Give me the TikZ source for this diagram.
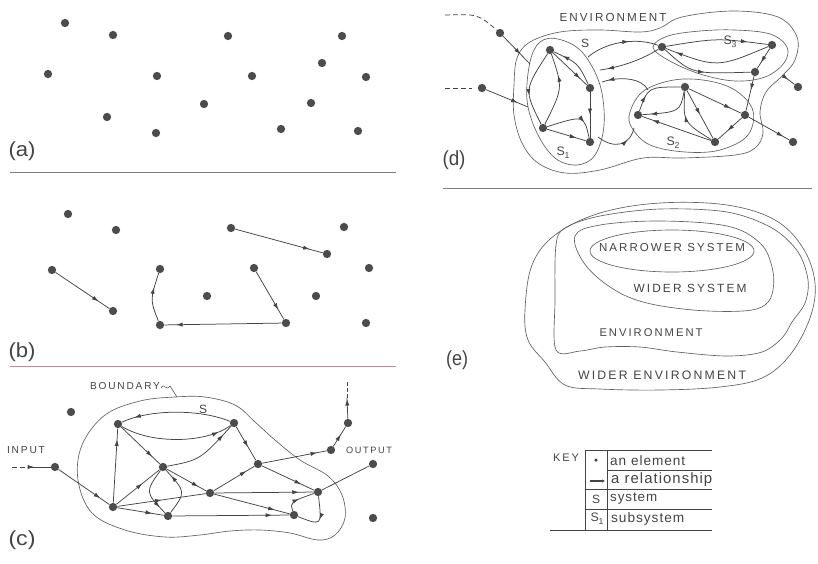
\documentclass[tikz,border=0pt]{standalone}
\usepackage{fontspec}
\usepackage{graphicx}
\usetikzlibrary{arrows.meta,decorations.markings}
\newfontfamily\lbl[LetterSpace=18]{Liberation Sans}
\newfontfamily\lblk[LetterSpace=7]{Liberation Sans}
\newfontfamily\lblp{Liberation Sans}
\newcommand\fw[2]{\resizebox{#1}{!}{\lbl\fontsize{10}{12}\selectfont #2}}
\newcommand\fwk[2]{\resizebox{#1}{!}{\lblk\fontsize{10}{12}\selectfont #2}}
\newcommand\plabel[2]{\resizebox*{#1}{19pt}{\lblp\fontsize{14}{16}\selectfont #2}}
\newcommand\subs[1]{\raisebox{-2.5pt}{\fontsize{7}{8}\selectfont #1}}
\definecolor{linec}{HTML}{444444}
\definecolor{dotc}{HTML}{4C4C4C}
\definecolor{bndc}{HTML}{606060}
\definecolor{sepc}{HTML}{808080}
\definecolor{sepr}{HTML}{C88A8A}
\begin{document}
\begin{tikzpicture}[x=1pt,y=-1pt,
  dot/.style={circle,fill=dotc,inner sep=0pt,minimum size=8.3pt},
  rel/.style={draw=linec,line width=0.75pt,postaction={decorate},
    decoration={markings,mark=at position #1 with {\arrow{Latex[length=6.5pt,width=4.2pt]}}}},
  rel/.default=0.78,
  plainln/.style={draw=linec,line width=0.75pt},
  bnd/.style={draw=bndc,line width=0.65pt},
  txt/.style={inner sep=0pt,text=linec},
  sep/.style={line width=0.9pt}]
\useasboundingbox (0,0) rectangle (818,563);
\fill[white] (0,0) rectangle (818,563);

% ---------------- (a) ----------------
\foreach \n/\x/\y in {a1/65/23,a2/113/35,a3/228/36,a4/342/36,a5/48/74,a6/157/76,a7/252/76,a8/322/63,a9/366/77,a10/204/104,a11/311/103,a12/107/117,a13/156/133,a14/281/129,a15/358/131}
  \node[dot] (\n) at (\x,\y) {};
\node[txt] (la) at (22,151) {\plabel{27pt}{(a)}};
\coordinate (sa1) at (10,172); \coordinate (sa2) at (396,172);
\draw[sep,draw=sepc] (sa1) -- (sa2);

% ---------------- (b) ----------------
\foreach \n/\x/\y in {b1/68/214,b2/116/230,b3/231/228,b4/344/227,b5/327/254,b6/52/270,b7/160/269,b8/254/268,b9/369/268,b10/207/296,b11/316/296,b12/113/311,b13/160/325,b14/286/323,b15/366/323}
  \node[dot] (\n) at (\x,\y) {};
\draw[rel=0.8] (b6) -- (b12);
\draw[rel=0.85] (b3) -- (b5);
\draw[rel=0.8] (b8) -- (b14);
\draw[rel=0.9] (b14) -- (b13);
\draw[rel=0.7] (b13) .. controls (150,300) .. (b7);
\node[txt] (lb) at (22,352) {\plabel{27pt}{(b)}};
\coordinate (sb1) at (10,366); \coordinate (sb2) at (396,366);
\draw[sep,draw=sepr] (sb1) -- (sb2);

% ---------------- (c) ----------------
\draw[bnd] plot[smooth cycle,tension=0.6] coordinates {(105,415) (140,401) (175,397) (205,397) (235,405) (255,422) (275,440) (300,460) (328,476) (342,495) (345,518) (335,535) (318,540) (290,533) (260,530) (230,531) (200,535) (165,537) (125,530) (92,513) (78,480) (82,445)};
\foreach \n/\x/\y in {A/118/424,B/234/423,C/163/467,D/258/464,E/210/493,F/113/507,G/168/516,H/318/492,I/294/515,In/55/467,O1/331/450,O2/348/423,Out/373/464,c1/71/412,c2/373/518}
  \node[dot] (\n) at (\x,\y) {};
\draw[rel=0.88] (B) .. controls (200,409) and (150,409) .. (A);
\draw[rel=0.88] (A) .. controls (150,444) and (205,444) .. (B);
\draw[rel=0.8] (A) -- (C);
\draw[rel=0.85] (C) .. controls (200,460) .. (B);
\draw[rel=0.85] (F) -- (A);
\draw[rel=0.6] (F) -- (C);
\coordinate (inS) at (12,467); \coordinate (inM) at (30,467);
\draw[draw=linec,line width=0.75pt,dash pattern=on 5pt off 3pt] (inS) -- (inM);
\draw[rel=0.2] (inM) -- (In);
\draw[rel=0.82] (In) -- (F);
\draw[rel=0.75] (F) -- (G);
\draw[rel=0.5] (F) -- (E);
\draw[rel=0.85] (C) .. controls (145,492) .. (G);
\draw[rel=0.85] (G) .. controls (186,492) .. (C);
\draw[rel=0.8] (C) -- (E);
\draw[rel=0.85] (E) -- (H);
\draw[rel=0.8] (E) -- (D);
\draw[rel=0.6] (B) -- (D);
\draw[rel=0.75] (D) -- (H);
\draw[rel=0.85] (D) -- (O1);
\draw[rel=0.6] (O1) -- (O2);
\coordinate (oarr) at (347,398); \coordinate (otop) at (347,382);
\draw[rel=0.95] (O2) -- (oarr);
\draw[draw=linec,line width=0.75pt,dash pattern=on 4pt off 2pt] (oarr) -- (otop);
\draw[plainln] (H) -- (Out);
\draw[rel=0.85] (G) -- (I);
\draw[rel=0.8] (E) -- (I);
\draw[rel=0.5] (I) .. controls (290,502) .. (H);
\draw[rel=0.5] (H) .. controls (322,526) .. (I);
\node[txt] (tbound) at (125,386) {\fw{70pt}{BOUNDARY}};
\coordinate (sq1) at (161,388); \coordinate (sq2) at (170,386); \coordinate (sq3) at (177,397);
\draw[draw=linec,line width=0.5pt] (sq1) .. controls (164,382) and (166,392) .. (sq2) -- (sq3);
\node[txt] (tS) at (203,409) {\fw{8pt}{S}};
\node[txt] (tin) at (26,450) {\fw{38pt}{INPUT}};
\node[txt] (tout) at (369,450) {\fw{46pt}{OUTPUT}};
\node[txt] (lc) at (22,540) {\plabel{27pt}{(c)}};

% ---------------- (d) ----------------
\draw[bnd] plot[smooth cycle,tension=0.6] coordinates {(514,85) (517,58) (530,42) (560,32) (600,30) (640,32) (660,28) (682,17) (733,11) (778,17) (797,37) (795,60) (782,76) (766,92) (760,112) (763,133) (755,148) (735,155) (683,158) (643,158) (600,170) (565,173) (538,163) (522,143) (514,115)};
\draw[bnd] plot[smooth cycle,tension=0.6] coordinates {(540,42) (558,39) (582,52) (600,85) (604,125) (595,155) (577,165) (555,158) (537,133) (527,100) (530,62)};
\draw[bnd] plot[smooth cycle,tension=0.6] coordinates {(653,47) (668,36) (700,31) (735,30) (770,34) (787,47) (784,63) (765,77) (735,81) (700,74) (668,60)};
\draw[bnd] plot[smooth cycle,tension=0.6] coordinates {(630,112) (645,90) (683,79) (727,86) (752,108) (748,135) (720,150) (685,152) (650,145) (632,128)};
\foreach \n/\x/\y in {P1/550/50,P2/590/88,P3/543/128,P4/590/142,Q1/662/47,Q2/772/45,Q3/755/72,R1/685/87,R2/638/115,R3/745/115,R4/715/142,d1/500/33,d2/482/88,d3/798/87,d4/793/142}
  \node[dot] (\n) at (\x,\y) {};
% S1 internal
\draw[rel=0.6] (P1) .. controls (524,90) .. (P3);
\draw[rel=0.7] (P3) .. controls (563,88) .. (P1);
\draw[rel=0.8] (P1) -- (P2);
\draw[rel=0.8] (P2) .. controls (578,63) .. (P1);
\draw[rel=0.75] (P3) -- (P4);
\draw[rel=0.7] (P3) .. controls (584,115) .. (P4);
\draw[rel=0.5] (P2) -- (P4);
% inputs
\coordinate (di1) at (445,15); \coordinate (di2) at (445,88); \coordinate (di2e) at (472,88);
\draw[draw=linec,line width=0.75pt,dash pattern=on 5pt off 3pt] (di1) .. controls (478,14) .. (d1);
\draw[draw=linec,line width=0.75pt,dash pattern=on 5pt off 3pt] (di2) -- (di2e);
\coordinate (s1in1) at (530,64); \coordinate (s1in2) at (528,107);
\draw[rel=0.65] (d1) -- (s1in1);
\draw[rel=0.75] (d2) -- (s1in2);
% between subsystems
\coordinate (s1a) at (588,57); \coordinate (s1b) at (600,70);
\coordinate (s1c) at (602,82); \coordinate (s1d) at (598,137);
\coordinate (s2a) at (648,90); \coordinate (s2b) at (634,128);
\draw[rel=0.6] (s1a) .. controls (608,40) and (640,38) .. (Q1);
\draw[rel=0.88] (Q1) .. controls (638,62) and (615,68) .. (s1b);
\draw[rel=0.88] (s2a) .. controls (642,78) and (620,76) .. (s1c);
\draw[rel=0.7] (s1d) .. controls (615,150) and (630,145) .. (s2b);
% S3 internal
\draw[rel=0.8] (Q1) .. controls (717,38) .. (Q2);
\draw[rel=0.9] (Q2) .. controls (717,68) .. (Q1);
\draw[rel=0.5] (Q1) .. controls (692,74) .. (Q3);
\draw[rel=0.7] (Q2) -- (Q3);
\draw[rel=0.4] (Q3) -- (R3);
% S2 internal
\draw[rel=0.3] (R2) .. controls (648,87) .. (R1);
\draw[rel=0.85] (R1) .. controls (680,112) .. (R2);
\draw[rel=0.8] (R1) -- (R3);
\draw[rel=0.5] (R1) -- (R4);
\draw[rel=0.6] (R4) .. controls (683,122) .. (R1);
\draw[rel=0.85] (R4) -- (R2);
\draw[rel=0.6] (R3) -- (R4);
% outputs
\coordinate (o3) at (782,75);
\draw[rel=0.5] (o3) -- (d3);
\draw[rel=0.85] (R3) -- (d4);
\node[txt] (tenv) at (613,17) {\fw{107pt}{ENVIRONMENT}};
\node[txt] (tSd) at (585,43) {\fw{8pt}{S}};
\node[txt] (tS1) at (563,153) {\fw{13pt}{S\subs{1}}};
\node[txt] (tS2) at (673,143) {\fw{13pt}{S\subs{2}}};
\node[txt] (tS3) at (730,42) {\fw{13pt}{S\subs{3}}};
\node[txt] (ld) at (454,160) {\plabel{23pt}{(d)}};
\coordinate (sd1) at (443,188); \coordinate (sd2) at (812,188);
\draw[sep,draw=sepc] (sd1) -- (sd2);

% ---------------- (e) ----------------
\draw[bnd] plot[smooth cycle,tension=0.6] coordinates {(525,310) (532,265) (555,235) (600,213) (660,203) (727,205) (775,220) (803,248) (815,283) (810,318) (790,355) (762,378) (720,387) (660,390) (600,389) (565,385) (545,362) (528,340)};
\draw[bnd] plot[smooth cycle,tension=0.55] coordinates {(556,350) (555,300) (556,245) (565,228) (600,216) (660,209) (727,212) (772,228) (798,252) (808,280) (805,303) (792,322) (782,338) (762,352) (727,356) (677,352) (640,347) (605,347) (580,351)};
\draw[bnd] plot[smooth cycle,tension=0.6] coordinates {(575,236) (600,225) (660,221) (727,226) (760,243) (772,267) (773,290) (765,305) (743,311) (693,310) (643,302) (610,287) (584,263)};
\draw[bnd] (672,251) ellipse [x radius=82, y radius=21];
\node[txt] (tnar) at (672,248) {\fw{146pt}{NARROWER SYSTEM}};
\node[txt] (twid) at (690,288) {\fw{113pt}{WIDER SYSTEM}};
\node[txt] (tenve) at (651,333) {\fw{103pt}{ENVIRONMENT}};
\node[txt] (twenv) at (662,375) {\fw{168pt}{WIDER ENVIRONMENT}};
\node[txt] (le) at (457,360) {\plabel{22pt}{(e)}};

% ---------------- key ----------------
\coordinate (k1) at (585,450); \coordinate (k2) at (712,450);
\coordinate (k3) at (585,530); \coordinate (k4) at (607,450); \coordinate (k5) at (607,530);
\coordinate (k6) at (607,470); \coordinate (k7) at (712,470);
\coordinate (k8) at (585,489); \coordinate (k9) at (712,489);
\coordinate (k10) at (585,509); \coordinate (k11) at (712,509);
\coordinate (k12) at (550,530); \coordinate (k13) at (712,530);
\draw[draw=linec,line width=0.6pt] (k1) -- (k2) (k1) -- (k3) (k4) -- (k5) (k6) -- (k7) (k8) -- (k9) (k10) -- (k11) (k12) -- (k13);
\node[txt] (tkey) at (566,458) {\fw{26pt}{KEY}};
\node[circle,fill=linec,inner sep=0pt,minimum size=3.5pt] (kdot) at (596,460) {};
\coordinate (kr1) at (590,481); \coordinate (kr2) at (605,481);
\draw[draw=linec,line width=1.4pt,-{Latex[length=3pt,width=3.4pt]}] (kr1) -- (kr2);
\node[txt] (kS) at (596,499) {\fw{8pt}{S}};
\node[txt] (kS1) at (597,519) {\fw{13pt}{S\subs{1}}};
\node[txt,anchor=west] (ke1) at (610,461) {\fwk{75pt}{an element}};
\node[txt,anchor=west] (ke2) at (611,480) {\fwk{101pt}{a relationship}};
\node[txt,anchor=west] (ke3) at (610,499) {\fwk{47pt}{system}};
\node[txt,anchor=west] (ke4) at (611,519) {\fwk{73pt}{subsystem}};
\end{tikzpicture}
\end{document}
